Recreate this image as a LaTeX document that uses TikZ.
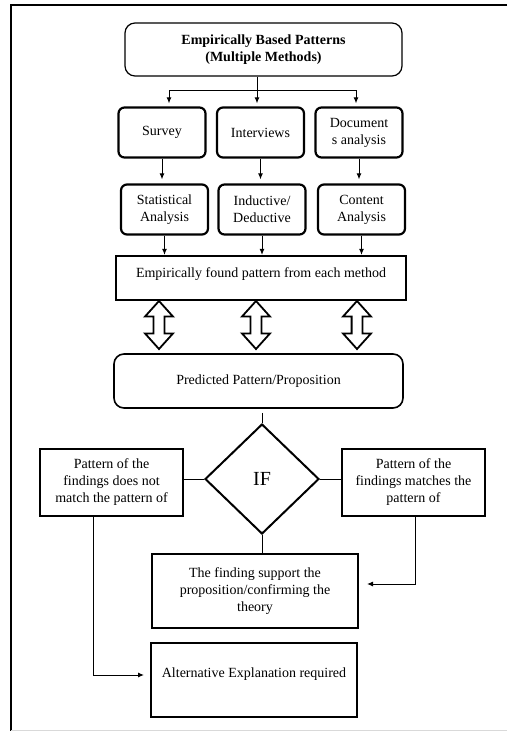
\documentclass[tikz,border=0pt]{standalone}
\usepackage{fontspec}
\setmainfont{Liberation Serif}
\usetikzlibrary{arrows.meta,shapes.geometric,shapes.arrows}

\tikzset{
	methodbox/.style={draw,line width=2.2pt,rounded corners=6pt,align=center,inner sep=2pt,minimum width=87pt,minimum height=50pt},
	roundbox/.style={draw,rounded corners=10pt,align=center,inner sep=2pt},
	plainbox/.style={draw,line width=2pt,align=center,inner sep=2pt},
	dblarrow/.style={draw,line width=1.8pt,shape=double arrow,shape border rotate=90,minimum height=48pt,minimum width=28pt,double arrow head extend=7pt,double arrow tip angle=84,inner sep=3.5pt},
	link/.style={line width=1pt},
	arr/.style={link,-{Latex[length=6pt,width=5pt]}}
}

\begin{document}
\begin{tikzpicture}[x=1pt,y=-1pt,font=\fontsize{14}{17}\selectfont]
	\useasboundingbox (0,0) rectangle (507,731);
	% page frame
	\draw[line width=1.8pt] (507,5) -- (11,5) -- (11,731);
	\draw[gray!30,line width=0.6pt] (11,730) -- (507,730);

	% methods
	\node[roundbox,line width=1.2pt,minimum width=277pt,minimum height=53pt] (top) at (263.5,49.5) {\textbf{Empirically Based Patterns}\\\textbf{(Multiple Methods)}};
	\node[methodbox] (survey) at (162,132.5) {Survey};
	\node[methodbox] (interv) at (260.5,132.5) {Interviews};
	\node[methodbox] (docs) at (359,132.5) {Document\\s analysis};
	\node[methodbox] (stat) at (164.5,209.5) {Statistical\\Analysis};
	\node[methodbox] (induct) at (262,209.5) {Inductive/\\Deductive};
	\node[methodbox] (content) at (361.5,209.5) {Content\\Analysis};
	\node[plainbox,line width=2.2pt,minimum width=290pt,minimum height=44pt,text depth=10pt] (found) at (261,278) {Empirically found pattern from each method};

	\path (257,90) coordinate (split)
	(169,90) coordinate (bl)
	(356,90) coordinate (br);
	\draw[link] (split |- top.south) -- (split);
	\draw[link] (bl) -- (br);
	\draw[arr,shorten >=3pt] (bl) -- (bl |- survey.north);
	\draw[arr,shorten >=3pt] (split) -- (split |- interv.north);
	\draw[arr,shorten >=3pt] (br) -- (br |- docs.north);
	\draw[arr,shorten >=4pt] (survey.south) -- (survey.south |- stat.north);
	\draw[arr,shorten >=4pt] (interv.south) -- (interv.south |- induct.north);
	\draw[arr,shorten >=4pt] (docs.south) -- (docs.south |- content.north);
	\draw[arr] (stat.south) -- (stat.south |- found.north);
	\draw[arr] (induct.south) -- (induct.south |- found.north);
	\draw[arr] (content.south) -- (content.south |- found.north);

	% two way arrows
	\node[dblarrow] (da1) at (159,325) {};
	\node[dblarrow] (da2) at (256,325) {};
	\node[dblarrow] (da3) at (357,325) {};

	\node[roundbox,line width=1.6pt,minimum width=289pt,minimum height=54pt] (pred) at (258.5,381) {Predicted Pattern/Proposition};

	% decision
	\node[draw,diamond,line width=2pt,minimum width=114pt,minimum height=110pt,inner sep=0pt,font=\fontsize{20}{24}\selectfont] (if) at (262,479) {IF};
	\node[plainbox,minimum width=143pt,minimum height=67pt] (nomatch) at (111.5,482.5) {Pattern of the\\findings does not\\match the pattern of};
	\node[plainbox,minimum width=143pt,minimum height=67pt] (match) at (413.5,482.5) {Pattern of the\\findings matches the\\pattern of};
	\node[plainbox,minimum width=206pt,minimum height=74pt] (support) at (255,591) {The finding support the\\proposition/confirming the\\theory};
	\node[plainbox,minimum width=206pt,minimum height=74pt,text depth=14pt] (altern) at (254,680) {Alternative Explanation required};

	\draw[link] (pred.south -| if.north) ++(0,4) -- (if.north);
	\draw[link] (if.west -| nomatch.east) -- (if.west);
	\draw[link] (if.east) -- (if.east -| match.west);
	\draw[link] (if.south) -- (if.south |- support.north);
	\path (93,675) coordinate (lcorner)
	(415,584) coordinate (rcorner);
	\draw[arr,shorten >=6pt] (lcorner |- nomatch.south) -- (lcorner) -- (lcorner -| altern.west);
	\draw[arr,shorten >=8pt] (rcorner |- match.south) -- (rcorner) -- (rcorner -| support.east);
\end{tikzpicture}
\end{document}
